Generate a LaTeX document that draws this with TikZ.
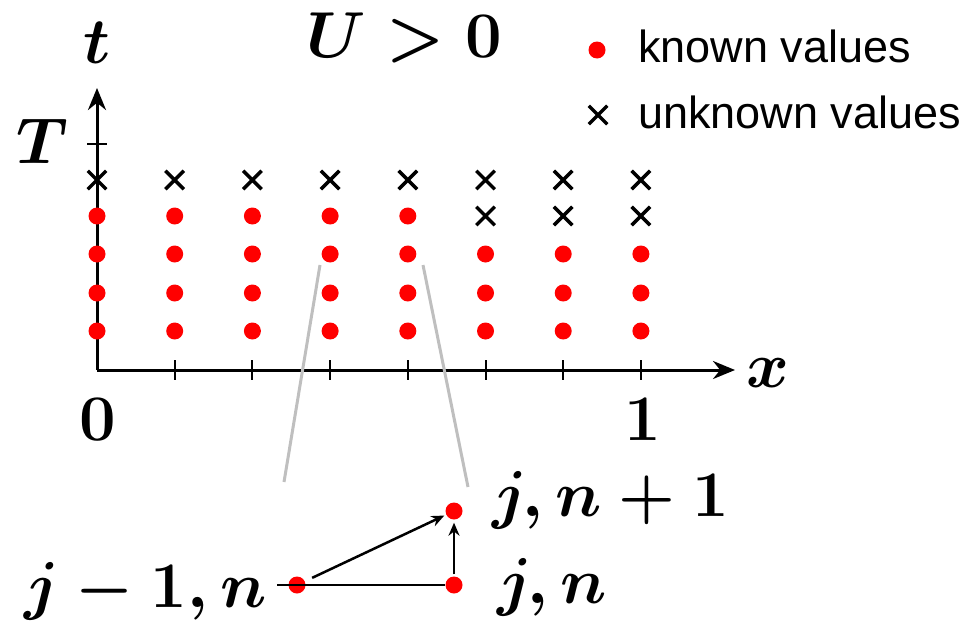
\RequirePackage{fix-cm}
\documentclass[tikz,border=0pt]{standalone}
\usepackage{fontspec}
\newfontfamily\legfont{Liberation Sans}
\usetikzlibrary{shapes.misc,arrows.meta}
\begin{document}
\begin{tikzpicture}[x=1pt,y=-1pt,
  dot/.style={circle,fill=red,inner sep=0pt,minimum size=17pt},
  unk/.style={cross out,draw=black,line width=3.5pt,inner sep=0pt,minimum size=15pt},
  axis/.style={line width=3pt,-{Stealth[length=22pt,width=18pt]}},
  tickmark/.style={line width=2pt},
  mlab/.style={font=\fontsize{65}{70}\selectfont\boldmath,inner sep=0pt},
  leg/.style={font=\fontsize{45}{50}\selectfont\legfont,inner sep=0pt},
  zoomline/.style={line width=3pt,color=black!25},
  step arrow/.style={line width=2.5pt,-{Stealth[length=13pt,width=11pt]}}]
\useasboundingbox (0,0) rectangle (963,621);
% axes
\coordinate (O) at (97,370);
\coordinate (Xend) at (735,370);
\coordinate (Yend) at (97,88);
\draw[axis] (O) -- (Xend);
\draw[axis] (O) -- (Yend);
% ticks on x axis
\foreach \i/\xx in {1/174.7,2/252.4,3/330.1,4/407.8,5/485.5,6/563.2,7/640.9}{
  \coordinate (xt\i a) at (\xx,360);
  \coordinate (xt\i b) at (\xx,380);
  \draw[tickmark] (xt\i a) -- (xt\i b);
}
\coordinate (Tta) at (87,144);
\coordinate (Ttb) at (107,144);
\draw[tickmark] (Tta) -- (Ttb);
% grid of values
\foreach \c/\xx in {0/97,1/174.7,2/252.4,3/330.1,4/407.8}{
  \foreach \r/\yy in {1/331,2/293,3/254,4/216}{
    \node[dot] (k\c-\r) at (\xx,\yy) {};
  }
  \node[unk] (u\c-5) at (\xx,180) {};
}
\foreach \c/\xx in {5/485.5,6/563.2,7/640.9}{
  \foreach \r/\yy in {1/331,2/293,3/254}{
    \node[dot] (k\c-\r) at (\xx,\yy) {};
  }
  \node[unk] (u\c-4) at (\xx,216) {};
  \node[unk] (u\c-5) at (\xx,180) {};
}
% labels
\node[mlab] (tlab) at (97,43) {$t$};
\node[mlab] (Tlab) at (42,141) {$T$};
\node[mlab] (Ulab) at (404,38) {$U>0$};
\node[mlab] (zero) at (98,420) {$0$};
\node[mlab] (one) at (643,420) {$1$};
\node[mlab] (xlab) at (768,373) {$x$};
% legend
\node[dot] (legdot) at (597,50) {};
\node[leg,anchor=base west] (legk) at (638,62) {known values};
\node[unk] (legx) at (598,115) {};
\node[leg,anchor=base west] (legu) at (638,128) {unknown values};
% zoom lines
\coordinate (zl1) at (320,265);
\coordinate (zl2) at (284,482);
\coordinate (zr1) at (423,265);
\coordinate (zr2) at (468,487);
\draw[zoomline] (zl1) -- (zl2);
\draw[zoomline] (zr1) -- (zr2);
% stencil
\node[dot] (A) at (297,585) {};
\node[dot] (B) at (454,585) {};
\node[dot] (C) at (454,511) {};
\coordinate (L) at (277,585);
\draw[line width=2.5pt] (L) -- (B);
\draw[step arrow,shorten <=8pt,shorten >=2pt] (A) -- (C);
\draw[step arrow,shorten <=2pt,shorten >=3pt] (B) -- (C);
\node[mlab,anchor=base west] (lC) at (492,516) {$j,n+1$};
\node[mlab,anchor=base west] (lB) at (497,603) {$j,n$};
\node[mlab,anchor=base east] (lA) at (267,607) {$j-1,n$};
\end{tikzpicture}
\end{document}
